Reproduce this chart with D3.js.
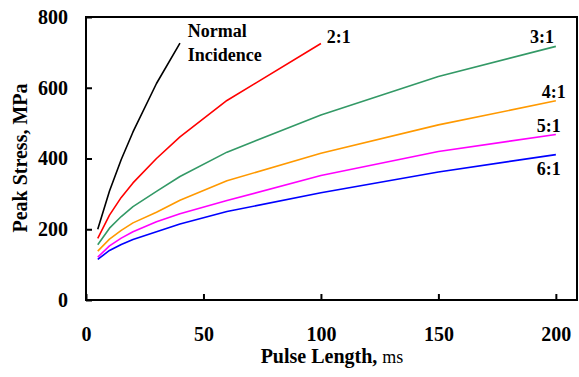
<!DOCTYPE html>
<html>
<head>
<meta charset="utf-8">
<script src="https://cdn.jsdelivr.net/npm/d3@7"></script>
<style>
  body { margin: 0; background: #fff; }
  text { font-family: "Liberation Serif", "Times New Roman", serif; font-weight: bold; fill: #000; }
</style>
</head>
<body>
<div id="chart"></div>
<script>
// pulse lengths sampled for each ratio
const pulse = [5, 10, 15, 20, 30, 40, 60, 100, 150, 200];
const normalPulse = [5, 10, 15, 20, 30, 40];
const ratio2Pulse = [5, 10, 15, 20, 30, 40, 60, 100];

const normalIncidence = [200, 308, 397, 475, 612, 726];
const ratio2 = [174, 240, 290, 331, 400, 461, 564, 725];
const ratio3 = [156, 203, 236, 264, 307, 349, 418, 523, 632, 717];
const ratio4 = [138, 172, 197, 218, 248, 282, 337, 415, 495, 563];
const ratio5 = [121, 153, 175, 193, 221, 244, 281, 352, 420, 468];
const ratio6 = [115, 140, 157, 171, 193, 215, 250, 303, 362, 411];

const xTicks = [0, 50, 100, 150, 200];
const yTicks = [0, 200, 400, 600, 800];

const series = [
  { name: "normal", xs: normalPulse, ys: normalIncidence, color: "#000000" },
  { name: "2:1", xs: ratio2Pulse, ys: ratio2, color: "#ff0000" },
  { name: "3:1", xs: pulse, ys: ratio3, color: "#339966" },
  { name: "4:1", xs: pulse, ys: ratio4, color: "#ff9900" },
  { name: "5:1", xs: pulse, ys: ratio5, color: "#ff00ff" },
  { name: "6:1", xs: pulse, ys: ratio6, color: "#0000ff" }
];

const width = 579, height = 377;
const margin = { left: 86, right: 2, top: 17, bottom: 77 };

const x = d3.scaleLinear().domain([0, 209]).range([margin.left, width - margin.right]);
const y = d3.scaleLinear().domain([0, 800]).range([height - margin.bottom, margin.top]);

const svg = d3.select("#chart").append("svg")
  .attr("width", width)
  .attr("height", height);

// curves
const line = d3.line()
  .x((d) => x(d[0]))
  .y((d) => y(d[1]));

svg.append("g")
  .selectAll("path")
  .data(series)
  .join("path")
  .attr("fill", "none")
  .attr("stroke", (d) => d.color)
  .attr("stroke-width", 1.6)
  .attr("stroke-linejoin", "round")
  .attr("d", (d) => line(d.xs.map((v, i) => [v, d.ys[i]])));

// frame
svg.append("rect")
  .attr("x", x(0))
  .attr("y", y(800))
  .attr("width", x(209) - x(0))
  .attr("height", y(0) - y(800))
  .attr("fill", "none")
  .attr("stroke", "#000")
  .attr("stroke-width", 2);

// ticks point inward
const xAxis = svg.append("g")
  .attr("transform", `translate(0,${y(0)})`)
  .call(d3.axisBottom(x).tickValues(xTicks).tickSizeInner(-6).tickSizeOuter(0).tickPadding(27));
xAxis.select(".domain").remove();
xAxis.selectAll(".tick line").attr("stroke-width", 2);
xAxis.selectAll(".tick text").style("font-size", "20px").attr("fill", "#000");

const yAxis = svg.append("g")
  .attr("transform", `translate(${x(0)},0)`)
  .call(d3.axisLeft(y).tickValues(yTicks).tickSizeInner(-6).tickSizeOuter(0).tickPadding(18));
yAxis.select(".domain").remove();
yAxis.selectAll(".tick line").attr("stroke-width", 2);
yAxis.selectAll(".tick text").style("font-size", "20px").attr("fill", "#000");

// axis titles
const xTitle = svg.append("text")
  .attr("x", 332)
  .attr("y", 363)
  .attr("text-anchor", "middle")
  .style("font-size", "20px")
  .text("Pulse Length, ");
xTitle.append("tspan")
  .style("font-weight", "normal")
  .style("font-size", "18px")
  .text("ms");

svg.append("text")
  .attr("transform", "translate(27,158) rotate(-90)")
  .attr("text-anchor", "middle")
  .style("font-size", "20px")
  .text("Peak Stress, MPa");

// curve labels, anchored in data units
const labels = [
  { t: "Normal", px: 43.3, py: 743 },
  { t: "Incidence", px: 43.3, py: 676 },
  { t: "2:1", px: 102.5, py: 726 },
  { t: "3:1", px: 189, py: 726 },
  { t: "4:1", px: 194, py: 571 },
  { t: "5:1", px: 191.9, py: 475 },
  { t: "6:1", px: 191.9, py: 353 }
];

svg.append("g")
  .selectAll("text")
  .data(labels)
  .join("text")
  .attr("x", (d) => x(d.px))
  .attr("y", (d) => y(d.py))
  .style("font-size", "18px")
  .text((d) => d.t);
</script>
</body>
</html>
